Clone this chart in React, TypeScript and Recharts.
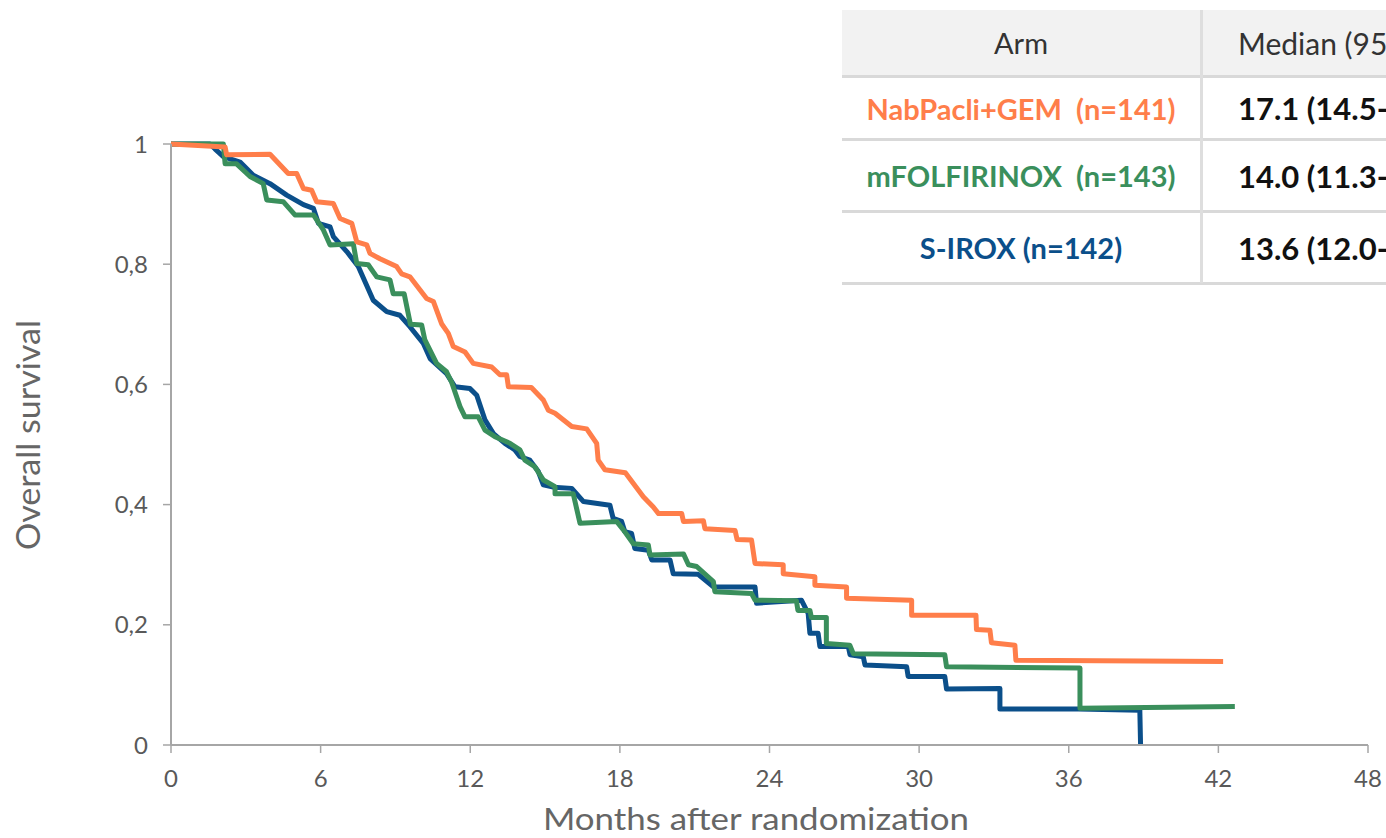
import { LineChart, Line, XAxis, YAxis } from 'recharts';

// [month, overall survival]
const nabPacliGem: [number, number][] = [
  [0, 1], [2.17, 0.995], [2.23, 0.982], [3.97, 0.983], [4.7, 0.951], [5.04, 0.951], [5.31, 0.926],
  [5.64, 0.923], [5.84, 0.904], [6.51, 0.901], [6.78, 0.876], [7.25, 0.868], [7.45, 0.837],
  [7.85, 0.832], [7.98, 0.818], [8.38, 0.809], [9.05, 0.796], [9.25, 0.784], [9.58, 0.779],
  [10.25, 0.743], [10.52, 0.738], [10.85, 0.701], [11.12, 0.685], [11.32, 0.663], [11.79, 0.654],
  [12.12, 0.635], [12.86, 0.629], [13.19, 0.616], [13.46, 0.616], [13.53, 0.596], [14.45, 0.595],
  [14.93, 0.574], [15.13, 0.557], [15.4, 0.552], [16.07, 0.53], [16.67, 0.526], [17.07, 0.502],
  [17.13, 0.474], [17.4, 0.458], [18.22, 0.453], [18.94, 0.413], [19.34, 0.396], [19.55, 0.385],
  [20.48, 0.385], [20.55, 0.372], [21.35, 0.373], [21.41, 0.36], [22.62, 0.357], [22.7, 0.342],
  [23.28, 0.341], [23.42, 0.302], [24.55, 0.3], [24.55, 0.285], [25.82, 0.28], [25.82, 0.266],
  [27.09, 0.263], [27.09, 0.244], [29.7, 0.241], [29.7, 0.216], [32.28, 0.216], [32.3, 0.192],
  [32.84, 0.191], [32.9, 0.17], [33.84, 0.166], [33.88, 0.141], [42.19, 0.139],
];

const mFolfirinox: [number, number][] = [
  [0, 1], [2.1, 1], [2.17, 0.967], [2.63, 0.967], [3.17, 0.946], [3.7, 0.934], [3.84, 0.907],
  [4.5, 0.904], [4.97, 0.882], [5.71, 0.882], [6.11, 0.857], [6.38, 0.832], [7.31, 0.834],
  [7.45, 0.801], [7.91, 0.799], [8.25, 0.779], [8.78, 0.774], [8.91, 0.751], [9.35, 0.751],
  [9.6, 0.7], [10.05, 0.699], [10.18, 0.674], [10.65, 0.635], [11.05, 0.621], [11.25, 0.604],
  [11.59, 0.563], [11.79, 0.546], [12.32, 0.546], [12.59, 0.524], [12.99, 0.513], [13.59, 0.502],
  [13.99, 0.491], [14.19, 0.474], [14.59, 0.463], [14.93, 0.441], [15.4, 0.43], [15.4, 0.418],
  [16.13, 0.418], [16.4, 0.369], [17.87, 0.372], [18.14, 0.358], [18.54, 0.335], [19.14, 0.333],
  [19.21, 0.316], [20.55, 0.318], [20.75, 0.3], [21.08, 0.297], [21.75, 0.272], [21.81, 0.255],
  [23.28, 0.252], [23.42, 0.241], [25.08, 0.24], [25.14, 0.224], [25.62, 0.224], [25.68, 0.212],
  [26.28, 0.212], [26.28, 0.169], [27.22, 0.166], [27.36, 0.152], [31.03, 0.15], [31.1, 0.13],
  [36.45, 0.128], [36.45, 0.061], [42.66, 0.064],
];

const sIrox: [number, number][] = [
  [0, 1], [1.56, 1], [1.76, 0.992], [2.1, 0.979], [2.77, 0.97], [3.3, 0.948], [3.97, 0.934],
  [4.64, 0.915], [5.31, 0.899], [5.71, 0.893], [5.91, 0.868], [6.38, 0.862], [6.51, 0.846],
  [7.05, 0.821], [7.51, 0.796], [8.11, 0.74], [8.65, 0.721], [9.18, 0.715], [9.58, 0.696],
  [10.12, 0.668], [10.39, 0.643], [11.05, 0.618], [11.39, 0.596], [11.99, 0.593], [12.26, 0.582],
  [12.59, 0.541], [12.93, 0.518], [13.39, 0.502], [13.79, 0.491], [13.99, 0.48], [14.39, 0.474],
  [14.73, 0.455], [14.93, 0.433], [15.33, 0.429], [16.07, 0.427], [16.54, 0.405], [17.6, 0.399],
  [17.73, 0.377], [18.07, 0.372], [18.2, 0.355], [18.47, 0.352], [18.6, 0.327], [19.14, 0.324],
  [19.28, 0.308], [20.01, 0.308], [20.14, 0.285], [21.14, 0.284], [21.75, 0.263], [23.42, 0.263],
  [23.48, 0.236], [25.28, 0.241], [25.55, 0.219], [25.62, 0.186], [25.95, 0.186], [26.02, 0.164],
  [27.16, 0.164], [27.23, 0.15], [27.76, 0.147], [27.83, 0.133], [29.5, 0.13], [29.56, 0.114],
  [31.03, 0.114], [31.1, 0.093], [33.24, 0.094], [33.24, 0.06], [36.38, 0.06], [38.85, 0.058],
  [38.88, 0],
];

const monthTicks = [0, 6, 12, 18, 24, 30, 36, 42, 48];
const survTicks = [0, 0.2, 0.4, 0.6, 0.8, 1];

const armLabels = ['NabPacli+GEM  (n=141)', 'mFOLFIRINOX  (n=143)', 'S-IROX (n=142)'];
const armMedians = ['17.1 (14.5-', '14.0 (11.3-', '13.6 (12.0-'];

const ORANGE = '#FF7E4A';
const GREEN = '#3A8F5C';
const BLUE = '#0B4F8A';
const armColors = [ORANGE, GREEN, BLUE];

const FONT = 'Lato, "Noto Sans", sans-serif';
const AXIS = '#A6A6A6';

const toRows = (pts: [number, number][]) => pts.map(([month, surv]) => ({ month, surv }));

const rowTops = [78, 141, 213];
const rowBottoms = [138, 210, 282];

export default function App() {
  return (
    <div style={{ position: 'absolute', left: 0, top: 0, width: 1386, height: 838, overflow: 'hidden', background: '#fff', fontFamily: FONT }}>
      <LineChart width={1386} height={838} margin={{ top: 144, right: 18, bottom: 0, left: 0 }}>
        <XAxis
          type="number"
          dataKey="month"
          domain={[0, 48]}
          ticks={monthTicks}
          height={93}
          tickSize={8}
          tickMargin={17}
          axisLine={{ stroke: AXIS, strokeWidth: 2 }}
          tickLine={{ stroke: AXIS, strokeWidth: 1.5 }}
          tick={{ fill: '#595959', fontSize: 24, fontFamily: FONT }}
        />
        <YAxis
          type="number"
          domain={[0, 1]}
          ticks={survTicks}
          width={171}
          tickSize={8}
          tickMargin={15}
          axisLine={{ stroke: AXIS, strokeWidth: 2 }}
          tickLine={{ stroke: AXIS, strokeWidth: 1.5 }}
          tick={{ fill: '#595959', fontSize: 24, fontFamily: FONT }}
          tickFormatter={(v: number) => String(v).replace('.', ',')}
        />
        <Line data={toRows(sIrox)} dataKey="surv" type="linear" stroke={BLUE} strokeWidth={5} strokeLinejoin="round" dot={false} activeDot={false} isAnimationActive={false} />
        <Line data={toRows(mFolfirinox)} dataKey="surv" type="linear" stroke={GREEN} strokeWidth={5} strokeLinejoin="round" dot={false} activeDot={false} isAnimationActive={false} />
        <Line data={toRows(nabPacliGem)} dataKey="surv" type="linear" stroke={ORANGE} strokeWidth={5} strokeLinejoin="round" dot={false} activeDot={false} isAnimationActive={false} />
      </LineChart>

      <svg width={1386} height={838} style={{ position: 'absolute', left: 0, top: 0, pointerEvents: 'none' }}>
        <text x={756} y={830} textAnchor="middle" fontSize={31} fill="#666" fontFamily={FONT} textLength={426} lengthAdjust="spacingAndGlyphs">
          Months after randomization
        </text>
        <text x={0} y={0} transform="translate(40,435) rotate(-90)" textAnchor="middle" fontSize={32} fill="#666" fontFamily={FONT} textLength={230} lengthAdjust="spacingAndGlyphs">
          Overall survival
        </text>
      </svg>

      {/* summary table, top right */}
      <div style={{ position: 'absolute', left: 842, top: 10, width: 544, height: 65, background: '#F2F2F2' }} />
      {[75, 138, 210, 282].map((y) => (
        <div key={y} style={{ position: 'absolute', left: 842, top: y, width: 544, height: 3, background: '#D9D9D9' }} />
      ))}
      <div style={{ position: 'absolute', left: 1200, top: 10, width: 3, height: 273, background: '#DEDEDE' }} />
      <div style={{ position: 'absolute', left: 842, top: 10, width: 358, height: 65, display: 'flex', alignItems: 'center', justifyContent: 'center', fontSize: 29, color: '#333' }}>
        Arm
      </div>
      <div style={{ position: 'absolute', left: 1238, top: 10, height: 65, display: 'flex', alignItems: 'center', fontSize: 30, color: '#333', whiteSpace: 'nowrap' }}>
        Median (95% CI)
      </div>
      {armLabels.map((label, i) => (
        <div key={label}>
          <div style={{ position: 'absolute', left: 842, top: rowTops[i], width: 358, height: rowBottoms[i] - rowTops[i], display: 'flex', alignItems: 'center', justifyContent: 'center', fontSize: 29, fontWeight: 700, color: armColors[i], whiteSpace: 'pre' }}>
            {label}
          </div>
          <div style={{ position: 'absolute', left: 1238, top: rowTops[i], height: rowBottoms[i] - rowTops[i], display: 'flex', alignItems: 'center', fontSize: 31, fontWeight: 700, color: '#111', whiteSpace: 'nowrap' }}>
            {armMedians[i]}
          </div>
        </div>
      ))}
    </div>
  );
}
